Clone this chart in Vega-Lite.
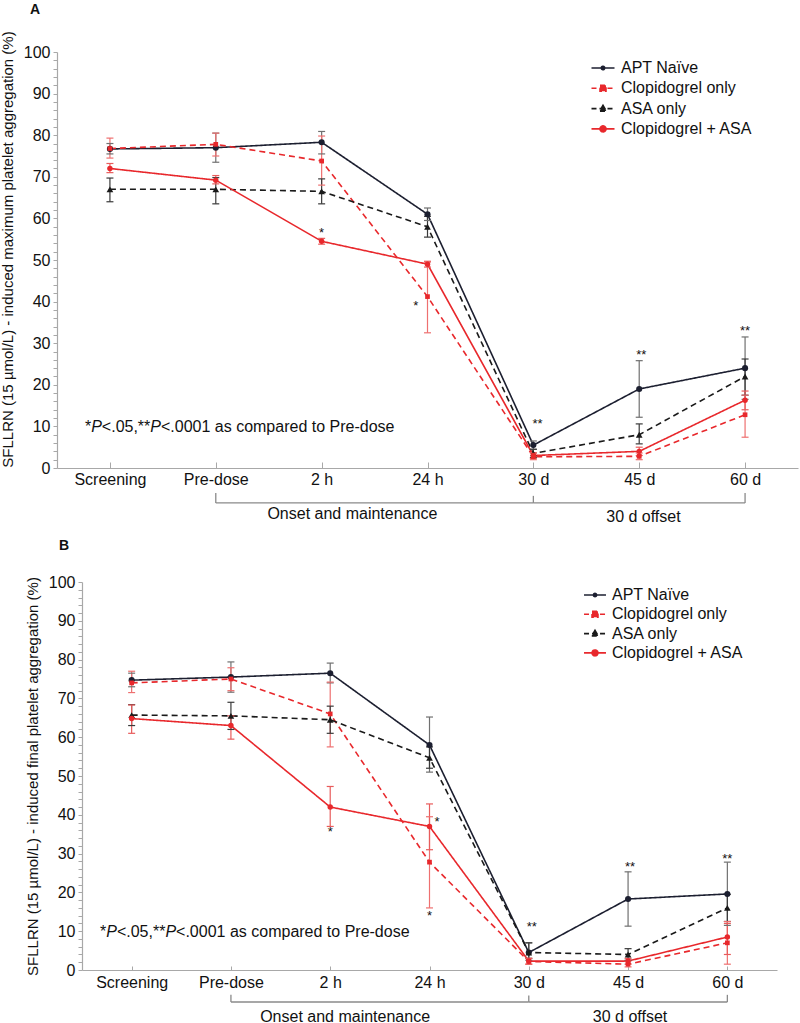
{
  "$schema": "https://vega.github.io/schema/vega-lite/v6.json",
  "padding": {"left": 0, "top": 2, "right": 2, "bottom": 2},
  "config": {
    "font": "Liberation Sans",
    "view": {"stroke": null},
    "axis": {"domainColor": "#a8a8a8", "tickColor": "#a8a8a8", "labelColor": "#111", "labelFontSize": 16, "titleFontSize": 15, "titleFontWeight": "normal", "titleColor": "#111", "grid": false}
  },
  "spacing": 13,
  "resolve": {"scale": {"color": "independent", "stroke": "independent", "shape": "independent", "size": "independent", "strokeDash": "independent"}, "legend": {"color": "independent"}},
  "datasets": {
    "A": [
      {"s": "APT Naïve", "i": 0, "v": 76.7, "lo": 75.5, "hi": 78},
      {"s": "APT Naïve", "i": 1, "v": 77.0, "lo": 73.5, "hi": 80.5},
      {"s": "APT Naïve", "i": 2, "v": 78.3, "lo": 75.5, "hi": 80.9},
      {"s": "APT Naïve", "i": 3, "v": 61.0, "lo": 59.5, "hi": 62.5},
      {"s": "APT Naïve", "i": 4, "v": 5.5, "lo": 4.5, "hi": 6.5},
      {"s": "APT Naïve", "i": 5, "v": 19.0, "lo": 12.2, "hi": 25.8},
      {"s": "APT Naïve", "i": 6, "v": 24.0, "lo": 16.5, "hi": 31.5},
      {"s": "Clopidogrel only", "i": 0, "v": 76.8, "lo": 74.5, "hi": 79.3},
      {"s": "Clopidogrel only", "i": 1, "v": 77.8, "lo": 75.0, "hi": 80.5},
      {"s": "Clopidogrel only", "i": 2, "v": 73.8, "lo": 68.0, "hi": 79.8},
      {"s": "Clopidogrel only", "i": 3, "v": 41.2, "lo": 32.5, "hi": 49.5},
      {"s": "Clopidogrel only", "i": 4, "v": 2.7, "lo": 2.0, "hi": 3.5},
      {"s": "Clopidogrel only", "i": 5, "v": 2.8, "lo": 2.0, "hi": 3.6},
      {"s": "Clopidogrel only", "i": 6, "v": 12.8, "lo": 7.4, "hi": 17.5},
      {"s": "ASA only", "i": 0, "v": 67.0, "lo": 64.0, "hi": 69.7},
      {"s": "ASA only", "i": 1, "v": 67.0, "lo": 63.5, "hi": 69.8},
      {"s": "ASA only", "i": 2, "v": 66.5, "lo": 63.5, "hi": 69.5},
      {"s": "ASA only", "i": 3, "v": 58.0, "lo": 55.5, "hi": 60.5},
      {"s": "ASA only", "i": 4, "v": 3.5, "lo": 2.5, "hi": 4.5},
      {"s": "ASA only", "i": 5, "v": 8.0, "lo": 5.8, "hi": 10.6},
      {"s": "ASA only", "i": 6, "v": 22.0, "lo": 17.5, "hi": 26.2},
      {"s": "Clopidogrel + ASA", "i": 0, "v": 72.0, "lo": 71.0, "hi": 73.2},
      {"s": "Clopidogrel + ASA", "i": 1, "v": 69.2, "lo": 68.3, "hi": 70.3},
      {"s": "Clopidogrel + ASA", "i": 2, "v": 54.5, "lo": 53.8, "hi": 55.2},
      {"s": "Clopidogrel + ASA", "i": 3, "v": 49.0, "lo": 48.3, "hi": 49.7},
      {"s": "Clopidogrel + ASA", "i": 4, "v": 3.0, "lo": 2.3, "hi": 3.7},
      {"s": "Clopidogrel + ASA", "i": 5, "v": 4.0, "lo": 3.0, "hi": 5.0},
      {"s": "Clopidogrel + ASA", "i": 6, "v": 16.3, "lo": 14.0, "hi": 18.5}
    ],
    "B": [
      {"s": "APT Naïve", "i": 0, "v": 74.7, "lo": 73.0, "hi": 76.5},
      {"s": "APT Naïve", "i": 1, "v": 75.5, "lo": 71.6, "hi": 79.4},
      {"s": "APT Naïve", "i": 2, "v": 76.5, "lo": 74.0, "hi": 79.1},
      {"s": "APT Naïve", "i": 3, "v": 58.0, "lo": 51.0, "hi": 65.2},
      {"s": "APT Naïve", "i": 4, "v": 4.5, "lo": 2.5, "hi": 7.0},
      {"s": "APT Naïve", "i": 5, "v": 18.3, "lo": 11.3, "hi": 25.3},
      {"s": "APT Naïve", "i": 6, "v": 19.6, "lo": 11.5, "hi": 27.8},
      {"s": "Clopidogrel only", "i": 0, "v": 74.0, "lo": 71.5, "hi": 77.0},
      {"s": "Clopidogrel only", "i": 1, "v": 75.0, "lo": 72.0, "hi": 77.9},
      {"s": "Clopidogrel only", "i": 2, "v": 66.0, "lo": 57.5, "hi": 74.2},
      {"s": "Clopidogrel only", "i": 3, "v": 27.8, "lo": 16.0, "hi": 39.5},
      {"s": "Clopidogrel only", "i": 4, "v": 2.2, "lo": 1.5, "hi": 3.0},
      {"s": "Clopidogrel only", "i": 5, "v": 1.5, "lo": 0.8, "hi": 2.3},
      {"s": "Clopidogrel only", "i": 6, "v": 7.0, "lo": 1.5, "hi": 12.5},
      {"s": "ASA only", "i": 0, "v": 65.7, "lo": 63.0, "hi": 68.4},
      {"s": "ASA only", "i": 1, "v": 65.5, "lo": 62.0, "hi": 69.0},
      {"s": "ASA only", "i": 2, "v": 64.5, "lo": 61.0, "hi": 68.0},
      {"s": "ASA only", "i": 3, "v": 54.7, "lo": 52.0, "hi": 57.5},
      {"s": "ASA only", "i": 4, "v": 4.5, "lo": 3.0, "hi": 7.0},
      {"s": "ASA only", "i": 5, "v": 4.0, "lo": 2.5, "hi": 5.5},
      {"s": "ASA only", "i": 6, "v": 16.0, "lo": 12.5, "hi": 19.5},
      {"s": "Clopidogrel + ASA", "i": 0, "v": 64.8, "lo": 61.0, "hi": 68.3},
      {"s": "Clopidogrel + ASA", "i": 1, "v": 63.0, "lo": 59.5, "hi": 65.5},
      {"s": "Clopidogrel + ASA", "i": 2, "v": 42.0, "lo": 37.0, "hi": 47.3},
      {"s": "Clopidogrel + ASA", "i": 3, "v": 37.0, "lo": 31.0, "hi": 42.8},
      {"s": "Clopidogrel + ASA", "i": 4, "v": 2.3, "lo": 1.5, "hi": 3.0},
      {"s": "Clopidogrel + ASA", "i": 5, "v": 2.3, "lo": 1.5, "hi": 3.0},
      {"s": "Clopidogrel + ASA", "i": 6, "v": 8.5, "lo": 4.0, "hi": 12.0}
    ],
    "starsA": [
      {"i": 2, "v": 57.3, "t": "*"},
      {"i": 2.89, "v": 39.7, "t": "*"},
      {"i": 4.04, "v": 11.3, "t": "**"},
      {"i": 5.02, "v": 28.0, "t": "**"},
      {"i": 6.0, "v": 33.7, "t": "**"}
    ],
    "starsB": [
      {"i": 2, "v": 36.3, "t": "*"},
      {"i": 3.075, "v": 39.0, "t": "*"},
      {"i": 3, "v": 14.7, "t": "*"},
      {"i": 4.03, "v": 11.9, "t": "**"},
      {"i": 5.02, "v": 27.3, "t": "**"},
      {"i": 6.0, "v": 29.4, "t": "**"}
    ],
    "noteA": [
      {"i": -0.2358, "v": 9.9, "t": "*"},
      {"i": -0.0764, "v": 9.9, "t": "<.05,**"},
      {"i": 0.4821, "v": 9.9, "t": "<.0001 as compared to Pre-dose"}
    ],
    "noteAi": [
      {"i": -0.1774, "v": 9.9, "t": "P"},
      {"i": 0.3811, "v": 9.9, "t": "P"}
    ],
    "noteB": [
      {"i": -0.3187, "v": 9.8, "t": "*"},
      {"i": -0.1485, "v": 9.8, "t": "<.05,**"},
      {"i": 0.4476, "v": 9.8, "t": "<.0001 as compared to Pre-dose"}
    ],
    "noteBi": [
      {"i": -0.2563, "v": 9.8, "t": "P"},
      {"i": 0.3399, "v": 9.8, "t": "P"}
    ],
    "brA": [
      {"i": 1, "i2": 4, "v": -8.4, "v2": -8.4},
      {"i": 4, "i2": 6, "v": -8.4, "v2": -8.4},
      {"i": 1, "i2": 1, "v": -8.4, "v2": -6.0},
      {"i": 4, "i2": 4, "v": -8.4, "v2": -6.7},
      {"i": 6, "i2": 6, "v": -8.4, "v2": -6.0}
    ],
    "brAt": [
      {"i": 2.29, "v": -11.1, "t": "Onset and maintenance"},
      {"i": 5.04, "v": -11.8, "t": "30 d offset"}
    ],
    "brB": [
      {"i": 1, "i2": 4, "v": -8.25, "v2": -8.25},
      {"i": 4, "i2": 6, "v": -8.25, "v2": -8.25},
      {"i": 1, "i2": 1, "v": -8.25, "v2": -6.4},
      {"i": 4, "i2": 4, "v": -8.25, "v2": -6.6},
      {"i": 6, "i2": 6, "v": -8.25, "v2": -6.4}
    ],
    "brBt": [
      {"i": 2.15, "v": -12.0, "t": "Onset and maintenance"},
      {"i": 5.02, "v": -12.0, "t": "30 d offset"}
    ]
  },
  "vconcat": [
    {
      "width": 741,
      "height": 416,
      "title": {"text": "A", "anchor": "start", "frame": "group", "dx": -27, "offset": 14, "fontSize": 14, "fontWeight": "bold", "color": "#111"},
      "resolve": {"axis": {"y": "independent"}},
      "layer": [
        {
          "data": {"name": "A"},
          "mark": {"type": "line", "strokeWidth": 1.6},
          "encoding": {
            "x": {"field": "i", "type": "quantitative", "scale": {"domain": [-0.5, 6.5]},
              "axis": {"title": null, "values": [0, 1, 2, 3, 4, 5, 6], "labelExpr": "['Screening','Pre-dose','2 h','24 h','30 d','45 d','60 d'][datum.value]", "labelOverlap": false, "tickSize": -6, "labelPadding": 9, "domainWidth": 1.2}},
            "y": {"field": "v", "type": "quantitative", "scale": {"domain": [0, 100]},
              "axis": {"orient": "left", "title": "SFLLRN (15 µmol/L) - induced maximum platelet aggregation (%)", "values": [0, 10, 20, 30, 40, 50, 60, 70, 80, 90, 100], "labelOverlap": false, "tickSize": 4, "labelPadding": 3, "titlePadding": 8, "titleY": 197, "domainWidth": 1.2}},
            "color": {"field": "s", "type": "nominal", "scale": {"domain": ["APT Naïve", "Clopidogrel only", "ASA only", "Clopidogrel + ASA"], "range": ["#1c1f30", "#e8282c", "#1a1a1a", "#e8282c"]},
              "legend": {"title": null, "orient": "none", "legendX": 535, "legendY": 5, "labelFontSize": 16, "labelColor": "#111", "symbolSize": 400, "rowPadding": 1.3, "labelOffset": 7, "padding": 0,
                "encode": {"symbols": {"update": {
                  "shape": {"signal": "datum.index === 0 ? 'M-1.15,0H1.15M-0.17,0A0.17,0.17 0 1,0 0.17,0A0.17,0.17 0 1,0 -0.17,0Z' : datum.index === 1 ? 'M-1.15,0H1.15M-0.3,-0.3H0.3V0.3H-0.3Z' : datum.index === 2 ? 'M-1.15,0H1.15M0,-0.33L0.33,0.25H-0.33Z' : 'M-1.15,0H1.15M-0.3,0A0.3,0.3 0 1,0 0.3,0A0.3,0.3 0 1,0 -0.3,0Z'"},
                  "strokeDash": {"signal": "datum.index === 1 || datum.index === 2 ? [5, 3] : [1, 0]"},
                  "fill": {"signal": "datum.index === 0 ? '#1c1f30' : datum.index === 2 ? '#1a1a1a' : '#e8282c'"},
                  "stroke": {"signal": "datum.index === 0 ? '#1c1f30' : datum.index === 2 ? '#1a1a1a' : '#e8282c'"},
                  "strokeWidth": {"value": 1.6},
                  "opacity": {"value": 1},
                  "fillOpacity": {"value": 1}
                }}}}},
            "strokeDash": {"field": "s", "type": "nominal", "scale": {"domain": ["ASA only", "APT Naïve", "Clopidogrel + ASA", "Clopidogrel only"], "range": [[6, 4], [1, 0], [1, 0], [6, 4]]}, "legend": null}
          }
        },
        {
          "data": {"name": "A"},
          "mark": {"type": "rule", "strokeWidth": 1.2},
          "encoding": {
            "x": {"field": "i", "type": "quantitative", "scale": {"domain": [-0.5, 6.5]}},
            "y": {"field": "lo", "type": "quantitative", "scale": {"domain": [0, 100]},
              "axis": {"orient": "left", "title": null, "values": [2,4,6,8,12,14,16,18,22,24,26,28,32,34,36,38,42,44,46,48,52,54,56,58,62,64,66,68,72,74,76,78,82,84,86,88,92,94,96,98], "labels": false, "domain": false, "tickSize": 4}},
            "y2": {"field": "hi"},
            "stroke": {"field": "s", "type": "nominal", "scale": {"domain": ["ASA only", "APT Naïve", "Clopidogrel + ASA", "Clopidogrel only"], "range": ["#3a3a3a", "#707070", "#e85c5c", "#ee7070"]}, "legend": null}
          }
        },
        {
          "data": {"name": "A"},
          "mark": {"type": "point", "shape": "stroke", "size": 49, "strokeWidth": 1.2, "filled": false, "opacity": 1},
          "encoding": {
            "x": {"field": "i", "type": "quantitative", "scale": {"domain": [-0.5, 6.5]}},
            "y": {"field": "lo", "type": "quantitative", "scale": {"domain": [0, 100]}, "axis": null},
            "stroke": {"field": "s", "type": "nominal", "scale": {"domain": ["ASA only", "APT Naïve", "Clopidogrel + ASA", "Clopidogrel only"], "range": ["#3a3a3a", "#707070", "#e85c5c", "#ee7070"]}, "legend": null}
          }
        },
        {
          "data": {"name": "A"},
          "mark": {"type": "point", "shape": "stroke", "size": 49, "strokeWidth": 1.2, "filled": false, "opacity": 1},
          "encoding": {
            "x": {"field": "i", "type": "quantitative", "scale": {"domain": [-0.5, 6.5]}},
            "y": {"field": "hi", "type": "quantitative", "scale": {"domain": [0, 100]}, "axis": null},
            "stroke": {"field": "s", "type": "nominal", "scale": {"domain": ["ASA only", "APT Naïve", "Clopidogrel + ASA", "Clopidogrel only"], "range": ["#3a3a3a", "#707070", "#e85c5c", "#ee7070"]}, "legend": null}
          }
        },
        {
          "data": {"name": "A"},
          "mark": {"type": "point", "filled": true, "opacity": 1},
          "encoding": {
            "x": {"field": "i", "type": "quantitative", "scale": {"domain": [-0.5, 6.5]}},
            "y": {"field": "v", "type": "quantitative", "scale": {"domain": [0, 100]}, "axis": null},
            "color": {"field": "s", "type": "nominal", "scale": {"domain": ["APT Naïve", "Clopidogrel only", "ASA only", "Clopidogrel + ASA"], "range": ["#1c1f30", "#e8282c", "#1a1a1a", "#e8282c"]}},
            "shape": {"field": "s", "type": "nominal", "scale": {"domain": ["ASA only", "APT Naïve", "Clopidogrel + ASA", "Clopidogrel only"], "range": ["triangle-up", "circle", "circle", "square"]}, "legend": null},
            "size": {"field": "s", "type": "nominal", "scale": {"domain": ["ASA only", "APT Naïve", "Clopidogrel + ASA", "Clopidogrel only"], "range": [45, 22, 45, 50]}, "legend": null}
          }
        },
        {
          "data": {"name": "starsA"},
          "mark": {"type": "text", "fontSize": 13, "color": "#111", "baseline": "middle", "dy": 3},
          "encoding": {
            "x": {"field": "i", "type": "quantitative", "scale": {"domain": [-0.5, 6.5]}},
            "y": {"field": "v", "type": "quantitative", "scale": {"domain": [0, 100]}, "axis": null},
            "text": {"field": "t"}
          }
        },
        {
          "data": {"name": "noteA"},
          "mark": {"type": "text", "fontSize": 16, "color": "#111", "align": "left", "baseline": "middle"},
          "encoding": {
            "x": {"field": "i", "type": "quantitative", "scale": {"domain": [-0.5, 6.5]}},
            "y": {"field": "v", "type": "quantitative", "scale": {"domain": [0, 100]}, "axis": null},
            "text": {"field": "t"}
          }
        },
        {
          "data": {"name": "noteAi"},
          "mark": {"type": "text", "fontSize": 16, "color": "#111", "align": "left", "baseline": "middle", "fontStyle": "italic"},
          "encoding": {
            "x": {"field": "i", "type": "quantitative", "scale": {"domain": [-0.5, 6.5]}},
            "y": {"field": "v", "type": "quantitative", "scale": {"domain": [0, 100]}, "axis": null},
            "text": {"field": "t"}
          }
        },
        {
          "data": {"name": "brA"},
          "mark": {"type": "rule", "color": "#8a8a8a", "strokeWidth": 1.3},
          "encoding": {
            "x": {"field": "i", "type": "quantitative", "scale": {"domain": [-0.5, 6.5]}},
            "x2": {"field": "i2"},
            "y": {"field": "v", "type": "quantitative", "scale": {"domain": [0, 100]}, "axis": null},
            "y2": {"field": "v2"}
          }
        },
        {
          "data": {"name": "brAt"},
          "mark": {"type": "text", "fontSize": 16, "color": "#111", "baseline": "middle"},
          "encoding": {
            "x": {"field": "i", "type": "quantitative", "scale": {"domain": [-0.5, 6.5]}},
            "y": {"field": "v", "type": "quantitative", "scale": {"domain": [0, 100]}, "axis": null},
            "text": {"field": "t"}
          }
        }
      ]
    },
    {
      "width": 720,
      "height": 388,
      "title": {"text": "B", "anchor": "start", "frame": "group", "dx": 2, "offset": 21, "fontSize": 14, "fontWeight": "bold", "color": "#111"},
      "resolve": {"axis": {"y": "independent"}},
      "layer": [
        {
          "data": {"name": "B"},
          "mark": {"type": "line", "strokeWidth": 1.6},
          "encoding": {
            "x": {"field": "i", "type": "quantitative", "scale": {"domain": [-0.5, 6.5], "range": [25, 720]},
              "axis": {"title": null, "values": [0, 1, 2, 3, 4, 5, 6], "labelExpr": "['Screening','Pre-dose','2 h','24 h','30 d','45 d','60 d'][datum.value]", "labelOverlap": false, "tickSize": -4, "labelPadding": 8, "domainWidth": 1.2}},
            "y": {"field": "v", "type": "quantitative", "scale": {"domain": [0, 100]},
              "axis": {"orient": "left", "title": "SFLLRN (15 µmol/L) - induced final platelet aggregation (%)", "offset": -25, "values": [0, 10, 20, 30, 40, 50, 60, 70, 80, 90, 100], "labelOverlap": false, "tickSize": 4, "labelPadding": 3, "titlePadding": 8, "domainWidth": 1.2}},
            "color": {"field": "s", "type": "nominal", "scale": {"domain": ["APT Naïve", "Clopidogrel only", "ASA only", "Clopidogrel + ASA"], "range": ["#1c1f30", "#e8282c", "#1a1a1a", "#e8282c"]},
              "legend": {"title": null, "orient": "none", "legendX": 528, "legendY": 3, "labelFontSize": 16, "labelColor": "#111", "symbolSize": 324, "rowPadding": 1.3, "labelOffset": 7, "padding": 0,
                "encode": {"symbols": {"update": {
                  "shape": {"signal": "datum.index === 0 ? 'M-1.22,0H1.22M-0.18,0A0.18,0.18 0 1,0 0.18,0A0.18,0.18 0 1,0 -0.18,0Z' : datum.index === 1 ? 'M-1.22,0H1.22M-0.33,-0.33H0.33V0.33H-0.33Z' : datum.index === 2 ? 'M-1.22,0H1.22M0,-0.36L0.36,0.27H-0.36Z' : 'M-1.22,0H1.22M-0.33,0A0.33,0.33 0 1,0 0.33,0A0.33,0.33 0 1,0 -0.33,0Z'"},
                  "strokeDash": {"signal": "datum.index === 1 || datum.index === 2 ? [5, 3] : [1, 0]"},
                  "fill": {"signal": "datum.index === 0 ? '#1c1f30' : datum.index === 2 ? '#1a1a1a' : '#e8282c'"},
                  "stroke": {"signal": "datum.index === 0 ? '#1c1f30' : datum.index === 2 ? '#1a1a1a' : '#e8282c'"},
                  "strokeWidth": {"value": 1.6},
                  "opacity": {"value": 1},
                  "fillOpacity": {"value": 1}
                }}}}},
            "strokeDash": {"field": "s", "type": "nominal", "scale": {"domain": ["ASA only", "APT Naïve", "Clopidogrel + ASA", "Clopidogrel only"], "range": [[6, 4], [1, 0], [1, 0], [6, 4]]}, "legend": null}
          }
        },
        {
          "data": {"name": "B"},
          "mark": {"type": "rule", "strokeWidth": 1.2},
          "encoding": {
            "x": {"field": "i", "type": "quantitative", "scale": {"domain": [-0.5, 6.5], "range": [25, 720]}},
            "y": {"field": "lo", "type": "quantitative", "scale": {"domain": [0, 100]},
              "axis": {"orient": "left", "title": null, "offset": -25, "values": [2,4,6,8,12,14,16,18,22,24,26,28,32,34,36,38,42,44,46,48,52,54,56,58,62,64,66,68,72,74,76,78,82,84,86,88,92,94,96,98], "labels": false, "domain": false, "tickSize": 4}},
            "y2": {"field": "hi"},
            "stroke": {"field": "s", "type": "nominal", "scale": {"domain": ["ASA only", "APT Naïve", "Clopidogrel + ASA", "Clopidogrel only"], "range": ["#3a3a3a", "#707070", "#e85c5c", "#ee7070"]}, "legend": null}
          }
        },
        {
          "data": {"name": "B"},
          "mark": {"type": "point", "shape": "stroke", "size": 49, "strokeWidth": 1.2, "filled": false, "opacity": 1},
          "encoding": {
            "x": {"field": "i", "type": "quantitative", "scale": {"domain": [-0.5, 6.5], "range": [25, 720]}},
            "y": {"field": "lo", "type": "quantitative", "scale": {"domain": [0, 100]}, "axis": null},
            "stroke": {"field": "s", "type": "nominal", "scale": {"domain": ["ASA only", "APT Naïve", "Clopidogrel + ASA", "Clopidogrel only"], "range": ["#3a3a3a", "#707070", "#e85c5c", "#ee7070"]}, "legend": null}
          }
        },
        {
          "data": {"name": "B"},
          "mark": {"type": "point", "shape": "stroke", "size": 49, "strokeWidth": 1.2, "filled": false, "opacity": 1},
          "encoding": {
            "x": {"field": "i", "type": "quantitative", "scale": {"domain": [-0.5, 6.5], "range": [25, 720]}},
            "y": {"field": "hi", "type": "quantitative", "scale": {"domain": [0, 100]}, "axis": null},
            "stroke": {"field": "s", "type": "nominal", "scale": {"domain": ["ASA only", "APT Naïve", "Clopidogrel + ASA", "Clopidogrel only"], "range": ["#3a3a3a", "#707070", "#e85c5c", "#ee7070"]}, "legend": null}
          }
        },
        {
          "data": {"name": "B"},
          "mark": {"type": "point", "filled": true, "opacity": 1},
          "encoding": {
            "x": {"field": "i", "type": "quantitative", "scale": {"domain": [-0.5, 6.5], "range": [25, 720]}},
            "y": {"field": "v", "type": "quantitative", "scale": {"domain": [0, 100]}, "axis": null},
            "color": {"field": "s", "type": "nominal", "scale": {"domain": ["APT Naïve", "Clopidogrel only", "ASA only", "Clopidogrel + ASA"], "range": ["#1c1f30", "#e8282c", "#1a1a1a", "#e8282c"]}},
            "shape": {"field": "s", "type": "nominal", "scale": {"domain": ["ASA only", "APT Naïve", "Clopidogrel + ASA", "Clopidogrel only"], "range": ["triangle-up", "circle", "circle", "square"]}, "legend": null},
            "size": {"field": "s", "type": "nominal", "scale": {"domain": ["ASA only", "APT Naïve", "Clopidogrel + ASA", "Clopidogrel only"], "range": [45, 22, 45, 50]}, "legend": null}
          }
        },
        {
          "data": {"name": "starsB"},
          "mark": {"type": "text", "fontSize": 13, "color": "#111", "baseline": "middle", "dy": 3},
          "encoding": {
            "x": {"field": "i", "type": "quantitative", "scale": {"domain": [-0.5, 6.5], "range": [25, 720]}},
            "y": {"field": "v", "type": "quantitative", "scale": {"domain": [0, 100]}, "axis": null},
            "text": {"field": "t"}
          }
        },
        {
          "data": {"name": "noteB"},
          "mark": {"type": "text", "fontSize": 16, "color": "#111", "align": "left", "baseline": "middle"},
          "encoding": {
            "x": {"field": "i", "type": "quantitative", "scale": {"domain": [-0.5, 6.5], "range": [25, 720]}},
            "y": {"field": "v", "type": "quantitative", "scale": {"domain": [0, 100]}, "axis": null},
            "text": {"field": "t"}
          }
        },
        {
          "data": {"name": "noteBi"},
          "mark": {"type": "text", "fontSize": 16, "color": "#111", "align": "left", "baseline": "middle", "fontStyle": "italic"},
          "encoding": {
            "x": {"field": "i", "type": "quantitative", "scale": {"domain": [-0.5, 6.5], "range": [25, 720]}},
            "y": {"field": "v", "type": "quantitative", "scale": {"domain": [0, 100]}, "axis": null},
            "text": {"field": "t"}
          }
        },
        {
          "data": {"name": "brB"},
          "mark": {"type": "rule", "color": "#8a8a8a", "strokeWidth": 1.3},
          "encoding": {
            "x": {"field": "i", "type": "quantitative", "scale": {"domain": [-0.5, 6.5], "range": [25, 720]}},
            "x2": {"field": "i2"},
            "y": {"field": "v", "type": "quantitative", "scale": {"domain": [0, 100]}, "axis": null},
            "y2": {"field": "v2"}
          }
        },
        {
          "data": {"name": "brBt"},
          "mark": {"type": "text", "fontSize": 16, "color": "#111", "baseline": "middle"},
          "encoding": {
            "x": {"field": "i", "type": "quantitative", "scale": {"domain": [-0.5, 6.5], "range": [25, 720]}},
            "y": {"field": "v", "type": "quantitative", "scale": {"domain": [0, 100]}, "axis": null},
            "text": {"field": "t"}
          }
        }
      ]
    }
  ]
}
